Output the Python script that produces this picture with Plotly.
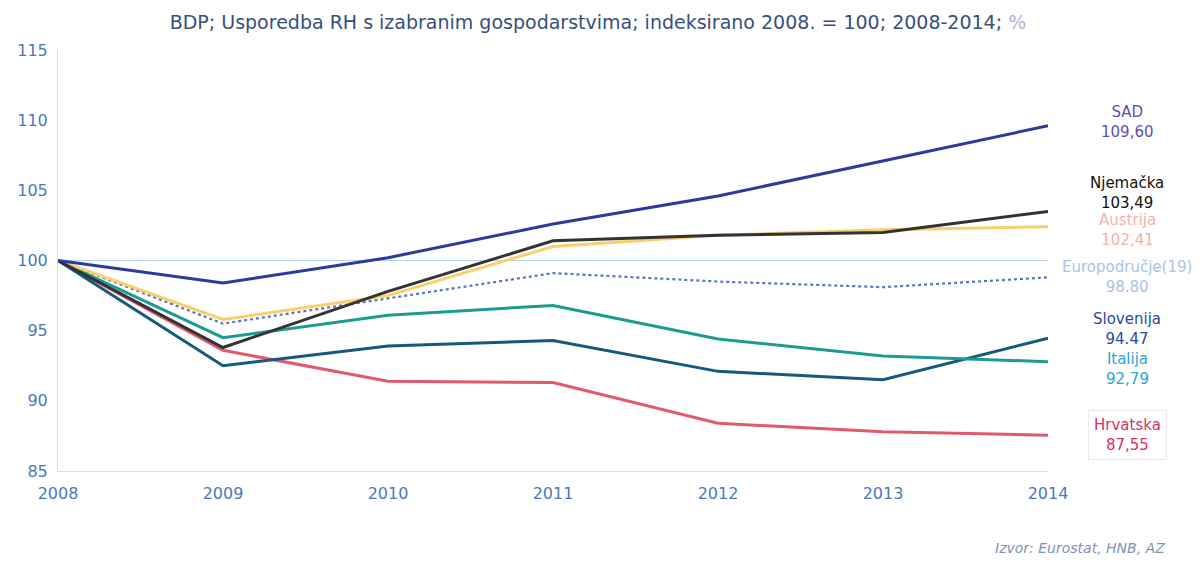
import plotly.graph_objects as go

years = [2008, 2009, 2010, 2011, 2012, 2013, 2014]
sad = [100, 98.4, 100.2, 102.6, 104.6, 107.1, 109.60]
njemacka = [100, 93.8, 97.8, 101.4, 101.8, 102.0, 103.49]
austrija = [100, 95.8, 97.5, 101.0, 101.8, 102.2, 102.41]
europodrucje = [100, 95.5, 97.3, 99.1, 98.5, 98.1, 98.80]
slovenija = [100, 92.5, 93.9, 94.3, 92.1, 91.5, 94.47]
italija = [100, 94.5, 96.1, 96.8, 94.4, 93.2, 92.79]
hrvatska = [100, 93.6, 91.4, 91.3, 88.4, 87.8, 87.55]

series = [
    ("Hrvatska", hrvatska, "#e2596f", "solid", "87,55", "#d82f63"),
    ("Slovenija", slovenija, "#17587f", "solid", "94.47", "#1f4b9c"),
    ("Italija", italija, "#1c9b92", "solid", "92,79", "#2aa6d2"),
    ("Europodručje (19)", europodrucje, "#5574c2", "dot", "98.80", "#a9c3e6"),
    ("Austrija", austrija, "#f7cf6c", "solid", "102,41", "#f4b3aa"),
    ("Njemačka", njemacka, "#333333", "solid", "103,49", "#111111"),
    ("SAD", sad, "#2c3a9f", "solid", "109,60", "#5b4fb3"),
]

label_pos = {
    "SAD": 109.9,
    "Njemačka": 104.8,
    "Austrija": 102.15,
    "Europodručje (19)": 98.8,
    "Slovenija": 95.1,
    "Italija": 92.3,
    "Hrvatska": 87.6,
}
label_text = {"Europodručje (19)": "Europodručje(19)"}

FONT = "DejaVu Sans, Verdana, sans-serif"

fig = go.Figure()
for name, vals, col, dash, lab, lcol in series:
    fig.add_trace(go.Scatter(
        x=years, y=vals, mode="lines", name=name,
        line=dict(color=col, width=3 if dash == "solid" else 2.2, dash=dash),
        showlegend=False,
    ))
    fig.add_annotation(
        x=1.08, xref="paper", y=label_pos[name], yref="y",
        text=label_text.get(name, name) + "<br>" + lab,
        showarrow=False, xanchor="center", yanchor="middle",
        font=dict(family=FONT, size=15, color=lcol),
        align="center",
        bordercolor="#f0e4ea" if name == "Hrvatska" else "rgba(0,0,0,0)",
        borderwidth=1, borderpad=5,
    )

fig.add_shape(type="line", xref="paper", x0=0, x1=1, yref="y", y0=100, y1=100,
              line=dict(color="#b9d3ee", width=1), layer="below")

fig.add_annotation(
    x=1.12, xref="paper", y=-0.183, yref="paper",
    text="<i>Izvor: Eurostat, HNB, AZ</i>", showarrow=False,
    xanchor="right", yanchor="middle",
    font=dict(family=FONT, size=14, color="#8293b3"),
)

fig.update_layout(
    width=1204, height=562,
    paper_bgcolor="white", plot_bgcolor="white",
    margin=dict(l=50, r=164, t=42, b=99),
    title=dict(
        text="BDP; Usporedba RH s izabranim gospodarstvima; indeksirano 2008. = 100; 2008-2014; <span style='color:#b8b0d8'>%</span>",
        x=0.49, xanchor="center", y=0.975, yanchor="middle",
        font=dict(family=FONT, size=19, color="#35507e"),
    ),
    xaxis=dict(
        range=[2008, 2014], tickvals=years, ticktext=[str(y) for y in years],
        showgrid=False, zeroline=False, showline=True, linecolor="#cfe0f2", linewidth=1,
        ticks="", automargin=False, ticklabelstandoff=8,
        tickfont=dict(family=FONT, size=16, color="#4a78c0"),
    ),
    yaxis=dict(
        range=[85, 115], tickvals=[85, 90, 95, 100, 105, 110, 115],
        showgrid=False, zeroline=False, showline=True, linecolor="#cfe0f2", linewidth=1,
        ticks="", ticklabelstandoff=6, automargin=False,
        tickfont=dict(family=FONT, size=16, color="#4a78c0"),
    ),
)

fig.write_html("out.html")
